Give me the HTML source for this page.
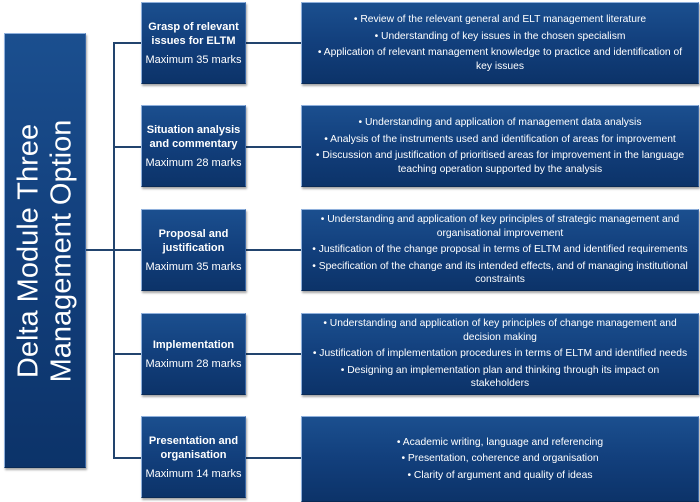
<!DOCTYPE html>
<html><head><meta charset="utf-8"><style>
body{margin:0;width:700px;height:499px;background:#fff;position:relative;overflow:hidden;font-family:"Liberation Sans",sans-serif}
.b{position:absolute;box-sizing:border-box;background:linear-gradient(180deg,#1b4f8f 0%,#123f7c 50%,#0c3369 100%);border:1px solid #8fb0dc;border-right-color:#3d6aa8;border-bottom-color:#0a2a55;box-shadow:1px 2px 2px rgba(0,0,0,.35);color:#fff;display:flex;flex-direction:column;justify-content:center;align-items:center;text-align:center}
.m{left:141px;width:105px;height:82px;font-size:11px}
.m b{display:block;line-height:14px;font-size:11px}
.m span{display:block;margin-top:6px}
.r{left:301px;width:398px;height:82px;font-size:10.3px;line-height:13.5px;padding:0 3px}
.r div{margin:1.5px 0;white-space:nowrap}
.l{position:absolute;background:#22446e}
</style></head><body>
<div class="b" style="left:4px;top:33px;width:82px;height:435px;">
<div style="transform:rotate(-90deg);white-space:nowrap;font-size:29px;line-height:33px;text-align:center">Delta Module Three<br>Management Option</div></div>
<div class="l" style="left:86px;top:249px;width:29px;height:2px"></div>
<div class="l" style="left:113px;top:42px;width:2px;height:417px"></div>
<div class="l" style="left:113px;top:42px;width:28px;height:2px"></div>
<div class="l" style="left:113px;top:146px;width:28px;height:2px"></div>
<div class="l" style="left:113px;top:249px;width:28px;height:2px"></div>
<div class="l" style="left:113px;top:353px;width:28px;height:2px"></div>
<div class="l" style="left:113px;top:457px;width:28px;height:2px"></div>
<div class="l" style="left:246px;top:42px;width:55px;height:2px"></div>
<div class="l" style="left:246px;top:146px;width:55px;height:2px"></div>
<div class="l" style="left:246px;top:249px;width:55px;height:2px"></div>
<div class="l" style="left:246px;top:353px;width:55px;height:2px"></div>
<div class="l" style="left:246px;top:457px;width:55px;height:2px"></div>

<div class="b m" style="top:2px"><b>Grasp of relevant<br>issues for ELTM</b><span>Maximum 35 marks</span></div>
<div class="b m" style="top:105px"><b>Situation analysis<br>and commentary</b><span>Maximum 28 marks</span></div>
<div class="b m" style="top:209px"><b>Proposal and<br>justification</b><span>Maximum 35 marks</span></div>
<div class="b m" style="top:313px"><b>Implementation</b><span>Maximum 28 marks</span></div>
<div class="b m" style="top:416px"><b>Presentation and<br>organisation</b><span>Maximum 14 marks</span></div>

<div class="b r" style="top:2px"><div>• Review of the relevant general and ELT management literature</div><div>• Understanding of key issues in the chosen specialism</div><div>• Application of relevant management knowledge to practice and identification of<br>key issues</div></div>
<div class="b r" style="top:105px"><div>• Understanding and application of management data analysis</div><div>• Analysis of the instruments used and identification of areas for improvement</div><div>• Discussion and justification of prioritised areas for improvement in the language<br>teaching operation supported by the analysis</div></div>
<div class="b r" style="top:209px"><div>• Understanding and application of key principles of strategic management and<br>organisational improvement</div><div>• Justification of the change proposal in terms of ELTM and identified requirements</div><div>• Specification of the change and its intended effects, and of managing institutional<br>constraints</div></div>
<div class="b r" style="top:313px"><div>• Understanding and application of key principles of change management and<br>decision making</div><div>• Justification of implementation procedures in terms of ELTM and identified needs</div><div>• Designing an implementation plan and thinking through its impact on<br>stakeholders</div></div>
<div class="b r" style="top:416px;height:86px"><div>• Academic writing, language and referencing</div><div>• Presentation, coherence and organisation</div><div>• Clarity of argument and quality of ideas</div></div>
</body></html>
